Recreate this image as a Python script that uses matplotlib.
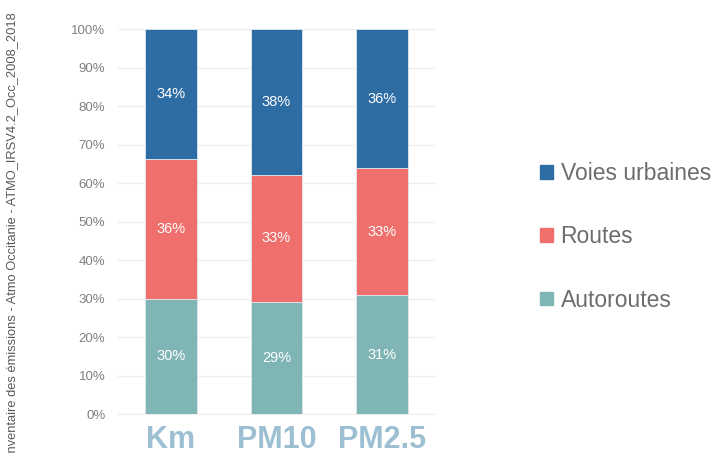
import numpy as np
import matplotlib.pyplot as plt
from matplotlib.patches import Patch

categories = ['Km', 'PM10', 'PM2.5']
autoroutes = [29.9, 29.1, 30.8]
routes = [36.3, 33.0, 33.0]
voies = [33.8, 37.9, 36.2]
series_names = ['Autoroutes', 'Routes', 'Voies urbaines']
colors = ['#7fb5b5', '#ef6f6c', '#2e6ca4']
source = 'Inventaire des émissions - Atmo Occitanie - ATMO_IRSV4.2_Occ_2008_2018'

plt.rcParams['font.family'] = ['Liberation Sans', 'DejaVu Sans']

fig = plt.figure(figsize=(7.19, 4.54), dpi=100)
ax = fig.add_axes([0.164, 0.088, 0.441, 0.848])

x = np.arange(len(categories))
bottom = np.zeros(len(categories))
for vals, name, col in zip([autoroutes, routes, voies], series_names, colors):
    vals = np.array(vals)
    ax.bar(x, vals, 0.49, bottom=bottom, color=col, edgecolor='#dfe8ef', linewidth=0.6, label=name, zorder=3)
    for xi, b, v in zip(x, bottom, vals):
        ax.text(xi, b + v / 2, f"{v:.0f}%", ha='center', va='center', color='white', fontsize=10.5, zorder=4)
    bottom += vals

ax.set_xlim(-0.5, 2.5)
ax.set_ylim(0, 100)
ax.set_yticks(np.arange(0, 101, 10))
ax.set_yticklabels([f"{t}%" for t in range(0, 101, 10)], color='#808080', fontsize=9.5)
ax.yaxis.grid(True, color='#eeeeee', linewidth=1, zorder=0)
ax.set_xticks(x)
ax.set_xticklabels(categories, fontsize=22, fontweight='bold', color='#9cc0d2')
ax.tick_params(axis='both', length=0)
ax.tick_params(axis='y', pad=9)
ax.tick_params(axis='x', pad=8)
for s in ['top', 'right', 'left']:
    ax.spines[s].set_visible(False)
ax.spines['bottom'].set_color('#eeeeee')

handles = [Patch(color=c) for c in colors[::-1]]
fig.legend(handles, series_names[::-1], loc='center left', bbox_to_anchor=(0.751, 0.478),
           frameon=False, fontsize=16.5, labelcolor='#6d6d6d', handlelength=0.55, handleheight=0.55,
           handletextpad=0.35, labelspacing=1.75, borderpad=0, borderaxespad=0)

fig.text(0.017, 0.974, source, rotation=90, ha='center', va='top', fontsize=9.3, color='#595959')

fig.savefig('out.png', dpi=100)
